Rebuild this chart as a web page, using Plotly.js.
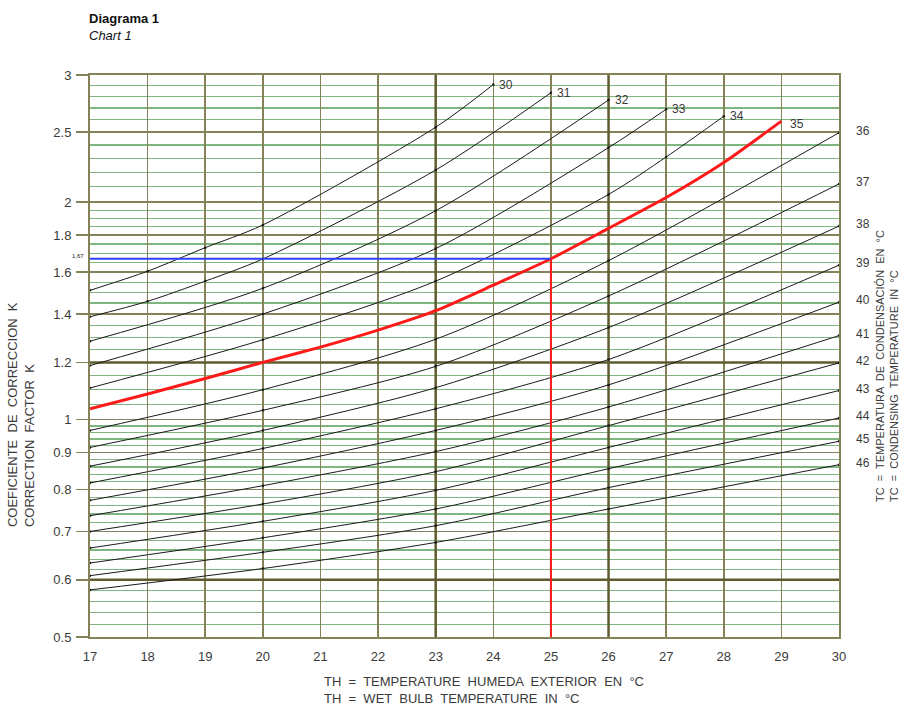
<!DOCTYPE html>
<html>
<head>
<meta charset="utf-8">
<script src="https://cdn.plot.ly/plotly-3.0.1.min.js"></script>
<style>
  html, body { margin: 0; padding: 0; background: #ffffff; }
  #chart { width: 917px; height: 706px; }
</style>
</head>
<body>
<div id="chart"></div>
<script>
// ---------- Data ----------
// Wet bulb temperature axis (TH, °C)
const thTicks = [17, 18, 19, 20, 21, 22, 23, 24, 25, 26, 27, 28, 29, 30];
// Correction factor axis (K)
const kTicks = [0.5, 0.6, 0.7, 0.8, 0.9, 1, 1.2, 1.4, 1.6, 1.8, 2, 2.5, 3];
const kTickText = ["0.5", "0.6", "0.7", "0.8", "0.9", "1", "1.2", "1.4", "1.6", "1.8", "2", "2.5", "3"];
const kMinor = [0.52, 0.54, 0.56, 0.58, 0.62, 0.64, 0.66, 0.68, 0.72, 0.74, 0.76, 0.78,
                0.82, 0.84, 0.86, 0.88, 0.92, 0.94, 0.96, 0.98, 1.05, 1.1, 1.15,
                1.25, 1.3, 1.35, 1.45, 1.5, 1.55, 1.65, 1.7, 1.75, 1.85, 1.9, 1.95,
                2.1, 2.2, 2.3, 2.4, 2.6, 2.7, 2.8, 2.9];
const thBold = [23, 26];
const kBold = [0.6, 1.2];

// Condensing temperature curves (TC, °C): K vs TH
const th30 = [17, 18, 19, 20, 23, 24];
const k30  = [1.51, 1.605, 1.73, 1.86, 2.54, 2.91];
const th31 = [17, 18, 19, 20, 23, 25];
const k31  = [1.388, 1.458, 1.555, 1.669, 2.216, 2.835];
const th32 = [17, 20, 23, 26];
const k32  = [1.284, 1.52, 1.946, 2.77];
const th33 = [17, 20, 23, 26, 27];
const k33  = [1.188, 1.40, 1.725, 2.38, 2.69];
const th34 = [17, 20, 23, 26, 27, 28];
const k34  = [1.106, 1.29, 1.555, 2.05, 2.31, 2.63];
const th35 = [17, 18, 19, 20, 21, 22, 23, 24, 25, 26, 27, 28, 29];
const k35  = [1.035, 1.085, 1.14, 1.20, 1.26, 1.33, 1.415, 1.535, 1.67, 1.84, 2.03, 2.27, 2.59];
const thFull = [17, 20, 23, 26, 30];
const k36 = [0.966, 1.10, 1.292, 1.66, 2.496];
const k37 = [0.915, 1.03, 1.185, 1.483, 2.12];
const k38 = [0.862, 0.966, 1.107, 1.341, 1.853];
const k39 = [0.817, 0.912, 1.035, 1.211, 1.636];
const k40 = [0.773, 0.857, 0.966, 1.117, 1.454];
const k41 = [0.736, 0.81, 0.903, 1.041, 1.307];
const k42 = [0.70, 0.764, 0.847, 0.981, 1.198];
const k43 = [0.664, 0.723, 0.798, 0.915, 1.097];
const k44 = [0.633, 0.686, 0.752, 0.855, 1.005];
const k45 = [0.608, 0.655, 0.713, 0.805, 0.933];
const k46 = [0.581, 0.622, 0.676, 0.752, 0.866];

// Worked example: TH = 25, TC = 35 -> K = 1,67
const exampleTH = 25;
const exampleK = 1.67;
const exampleLabel = "1,67";

// ---------- Styles ----------
const OLIVE = "#85825a";
const OLIVE_DARK = "#5f5b2f";
const GREEN = "#7fb57f";
const CURVE = "#1a1a1a";
const RED = "#ff1a1a";
const BLUE = "#2f3fff";
const TXT = "#3a3a3a";
const FONT = "Liberation Sans, Arial, sans-serif";

const curves = [
  {tc: 30, x: th30, y: k30}, {tc: 31, x: th31, y: k31}, {tc: 32, x: th32, y: k32},
  {tc: 33, x: th33, y: k33}, {tc: 34, x: th34, y: k34},
  {tc: 36, x: thFull, y: k36}, {tc: 37, x: thFull, y: k37}, {tc: 38, x: thFull, y: k38},
  {tc: 39, x: thFull, y: k39}, {tc: 40, x: thFull, y: k40}, {tc: 41, x: thFull, y: k41},
  {tc: 42, x: thFull, y: k42}, {tc: 43, x: thFull, y: k43}, {tc: 44, x: thFull, y: k44},
  {tc: 45, x: thFull, y: k45}, {tc: 46, x: thFull, y: k46}
];

const traces = [];
// bold grid lines
thBold.forEach(v => traces.push({x: [v, v], y: [kTicks[0], kTicks[kTicks.length - 1]], mode: "lines",
  line: {color: OLIVE_DARK, width: 2.5}, hoverinfo: "skip", showlegend: false}));
kBold.forEach(v => traces.push({x: [thTicks[0], thTicks[thTicks.length - 1]], y: [v, v], mode: "lines",
  line: {color: OLIVE_DARK, width: 2.5}, hoverinfo: "skip", showlegend: false}));

// black curves
curves.forEach(c => traces.push({
  x: c.x, y: c.y, mode: "lines+markers", line: {color: CURVE, width: 1, shape: "spline", smoothing: 0.8},
  marker: {size: 2.5, color: CURVE}, showlegend: false, name: "TC " + c.tc
}));
// red curve TC = 35
traces.push({x: th35, y: k35, mode: "lines", line: {color: RED, width: 3, shape: "spline", smoothing: 0.6},
  showlegend: false, name: "TC 35"});
// example lines
traces.push({x: [thTicks[0], exampleTH], y: [exampleK, exampleK], mode: "lines",
  line: {color: BLUE, width: 2}, showlegend: false});
traces.push({x: [exampleTH, exampleTH], y: [kTicks[0], exampleK], mode: "lines",
  line: {color: RED, width: 2}, showlegend: false});

// labels
const annotations = [];
const allCurves = curves.concat([{tc: 35, x: th35, y: k35}]);
allCurves.forEach(c => {
  const xe = c.x[c.x.length - 1], ye = c.y[c.y.length - 1];
  if (xe < 30) {
    annotations.push({x: xe, y: Math.log10(ye), xref: "x", yref: "y", text: String(c.tc), showarrow: false,
      xanchor: "left", yanchor: "middle", xshift: c.tc === 35 ? 7 : 4, yshift: c.tc === 35 ? -3 : 0,
      font: {family: FONT, size: 12, color: TXT}});
  } else {
    annotations.push({x: xe, y: Math.log10(ye), xref: "x", yref: "y", text: String(c.tc), showarrow: false,
      xanchor: "left", yanchor: "middle", xshift: 15, yshift: 2,
      font: {family: FONT, size: 12, color: TXT}});
  }
});
annotations.push({x: thTicks[0], y: Math.log10(exampleK), xref: "x", yref: "y", text: exampleLabel,
  showarrow: false, xanchor: "right", yanchor: "middle", xshift: -4, yshift: 3,
  font: {family: FONT, size: 6, color: "#222"}});
// headings
annotations.push({xref: "paper", yref: "paper", x: -0.004, y: 1.118, xanchor: "left", yanchor: "top",
  align: "left", showarrow: false, text: "<b>Diagrama 1</b><br><i>Chart 1</i>",
  font: {family: FONT, size: 13, color: "#111"}});
annotations.push({xref: "paper", yref: "paper", x: -0.092, y: 0.395, xanchor: "center", yanchor: "middle",
  textangle: -90, align: "left", showarrow: false,
  text: "COEFICIENTE  DE  CORRECCION  K<br>CORRECTION  FACTOR  K",
  font: {family: FONT, size: 13, color: TXT}});
annotations.push({xref: "paper", yref: "paper", x: 1.064, y: 0.482, xanchor: "center", yanchor: "middle",
  textangle: -90, align: "left", showarrow: false,
  text: "TC  =  TEMPERATURA  DE  CONDENSACIÓN  EN  °C<br>TC  =  CONDENSING  TEMPERATURE  IN  °C",
  font: {family: FONT, size: 11, color: TXT}});
annotations.push({xref: "paper", yref: "paper", x: 0.31, y: -0.062, xanchor: "left", yanchor: "top",
  align: "left", showarrow: false,
  text: "TH  =  TEMPERATURE  HUMEDA  EXTERIOR  EN  °C<br>TH  =  WET  BULB  TEMPERATURE  IN  °C",
  font: {family: FONT, size: 13, color: TXT}});

const layout = {
  width: 917, height: 706,
  margin: {l: 90, r: 78, t: 75, b: 69},
  paper_bgcolor: "#ffffff", plot_bgcolor: "#ffffff",
  showlegend: false,
  font: {family: FONT, size: 13, color: TXT},
  xaxis: {
    range: [thTicks[0], thTicks[thTicks.length - 1]], tickmode: "array", tickvals: thTicks,
    showgrid: true, gridcolor: OLIVE, gridwidth: 1.5, zeroline: false,
    showline: true, linecolor: OLIVE, linewidth: 2, mirror: true,
    ticks: "", ticklabelstandoff: 6, tickfont: {family: FONT, size: 13, color: TXT}
  },
  yaxis: {
    type: "log", range: [Math.log10(kTicks[0]), Math.log10(kTicks[kTicks.length - 1])],
    tickmode: "array", tickvals: kTicks, ticktext: kTickText,
    showgrid: true, gridcolor: OLIVE, gridwidth: 1.5, zeroline: false,
    showline: true, linecolor: OLIVE, linewidth: 2, mirror: true,
    ticks: "outside", ticklen: 12, tickwidth: 1.5, tickcolor: OLIVE, ticklabelstandoff: 2,
    tickfont: {family: FONT, size: 13, color: TXT},
    minor: {tickmode: "array", tickvals: kMinor, showgrid: true, gridcolor: GREEN, gridwidth: 1.2, ticks: ""}
  },
  annotations: annotations
};

Plotly.newPlot("chart", traces, layout, {staticPlot: true, displayModeBar: false});
</script>
</body>
</html>
